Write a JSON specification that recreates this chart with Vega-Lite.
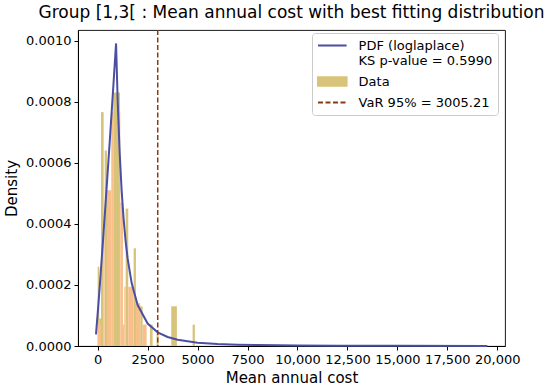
{
  "$schema": "https://vega.github.io/schema/vega-lite/v6.json",
  "width": 427,
  "height": 316,
  "autosize": {"type": "none"},
  "padding": {"left": 78, "top": 30, "right": 45, "bottom": 40},
  "title": {"text": "Group [1,3[ : Mean annual cost with best fitting distribution", "fontSize": 17, "fontWeight": "normal", "color": "black", "offset": 7, "anchor": "middle"},
  "config": {
    "font": "DejaVu Sans",
    "view": {"stroke": "black", "strokeWidth": 0.9},
    "axis": {"grid": false, "domainColor": "black", "tickColor": "black", "labelColor": "black", "titleColor": "black", "labelFontSize": 13, "titleFontSize": 15, "titleFontWeight": "normal", "tickSize": 4, "labelPadding": 3},
    "legend": {
      "title": null, "orient": "none", "legendX": 234, "legendY": 3,
      "labelFontSize": 13, "labelColor": "black", "labelOffset": 26.6, "rowPadding": 5, "labelLimit": 400,
      "symbolSize": 169, "symbolStrokeWidth": 2, "padding": 5,
      "strokeColor": "#cccccc", "fillColor": "white", "cornerRadius": 3
    }
  },
  "datasets": {
    "gold": [
      {"x0": 0, "x1": 80, "density": 0.00026, "series": "Data"},
      {"x0": 80, "x1": 165, "density": 0.00009, "series": "Data"},
      {"x0": 165, "x1": 300, "density": 0.000766, "series": "Data"},
      {"x0": 350, "x1": 465, "density": 0.00064, "series": "Data"},
      {"x0": 780, "x1": 1115, "density": 0.00083, "series": "Data"},
      {"x0": 1400, "x1": 1530, "density": 0.00045, "series": "Data"},
      {"x0": 1800, "x1": 1915, "density": 0.00032, "series": "Data"},
      {"x0": 2130, "x1": 2250, "density": 0.00013, "series": "Data"},
      {"x0": 2615, "x1": 2750, "density": 0.00007, "series": "Data"},
      {"x0": 2950, "x1": 3050, "density": 0.00004, "series": "Data"},
      {"x0": 3680, "x1": 3965, "density": 0.00013, "series": "Data"},
      {"x0": 4750, "x1": 4865, "density": 0.00007, "series": "Data"}
    ],
    "orange": [
      {"x0": 0, "x1": 165, "density": 0.00007},
      {"x0": 300, "x1": 350, "density": 0.00037},
      {"x0": 465, "x1": 680, "density": 0.00051},
      {"x0": 680, "x1": 780, "density": 0.000766},
      {"x0": 1115, "x1": 1130, "density": 0.000766},
      {"x0": 1130, "x1": 1265, "density": 0.00047},
      {"x0": 1265, "x1": 1330, "density": 0.00007},
      {"x0": 1330, "x1": 1400, "density": 0.000194},
      {"x0": 1530, "x1": 1800, "density": 0.000194},
      {"x0": 1915, "x1": 2130, "density": 0.00014},
      {"x0": 2250, "x1": 2450, "density": 0.00007}
    ],
    "pdf": [
      {"x": -85, "density": 0.0000382},
      {"x": 0, "density": 0.000107},
      {"x": 100, "density": 0.000193},
      {"x": 200, "density": 0.000284},
      {"x": 300, "density": 0.000377},
      {"x": 400, "density": 0.000472},
      {"x": 500, "density": 0.000569},
      {"x": 600, "density": 0.000667},
      {"x": 700, "density": 0.000767},
      {"x": 800, "density": 0.000868},
      {"x": 920, "density": 0.000991},
      {"x": 1000, "density": 0.000805},
      {"x": 1100, "density": 0.000634},
      {"x": 1200, "density": 0.000508},
      {"x": 1300, "density": 0.000414},
      {"x": 1400, "density": 0.000342},
      {"x": 1500, "density": 0.000286},
      {"x": 1700, "density": 0.000206},
      {"x": 2000, "density": 0.000134},
      {"x": 2500, "density": 0.0000736},
      {"x": 3000, "density": 0.0000449},
      {"x": 3500, "density": 0.0000295},
      {"x": 4000, "density": 0.0000204},
      {"x": 5000, "density": 0.000011},
      {"x": 6000, "density": 0.0000066},
      {"x": 7000, "density": 0.0000043},
      {"x": 8000, "density": 0.000003},
      {"x": 10000, "density": 0.0000016},
      {"x": 12000, "density": 0.00000095},
      {"x": 15000, "density": 0.0000005},
      {"x": 19500, "density": 0.00000024}
    ],
    "var": [
      {"x": 3005.21}
    ]
  },
  "layer": [
    {
      "data": {"name": "gold"},
      "mark": {"type": "bar", "color": "#d8c37a"},
      "encoding": {
        "x": {"field": "x0", "type": "quantitative", "scale": {"domain": [-985, 20385], "nice": false, "zero": false},
          "axis": {"title": "Mean annual cost", "values": [0, 2500, 5000, 7500, 10000, 12500, 15000, 17500, 20000], "labelExpr": "datum.value >= 10000 ? format(datum.value, ',') : format(datum.value, 'd')", "titlePadding": 4}},
        "x2": {"field": "x1"},
        "y": {"field": "density", "type": "quantitative", "scale": {"domain": [0, 0.001035], "nice": false},
          "axis": {"title": "Density", "values": [0, 0.0002, 0.0004, 0.0006, 0.0008, 0.001], "format": ".4f", "titlePadding": 6}},
        "y2": {"datum": 0}
      }
    },
    {
      "data": {"name": "orange"},
      "mark": {"type": "bar", "color": "#f8bf8b"},
      "encoding": {
        "x": {"field": "x0", "type": "quantitative"},
        "x2": {"field": "x1"},
        "y": {"field": "density", "type": "quantitative"},
        "y2": {"datum": 0}
      }
    },
    {
      "data": {"name": "pdf"},
      "mark": {"type": "line", "strokeWidth": 2, "color": "#4a4fa3"},
      "encoding": {
        "x": {"field": "x", "type": "quantitative"},
        "y": {"field": "density", "type": "quantitative"}
      }
    },
    {
      "data": {"name": "var"},
      "mark": {"type": "rule", "strokeDash": [5, 2.5], "strokeWidth": 1.5, "color": "#8c3a14"},
      "encoding": {
        "x": {"field": "x", "type": "quantitative"}
      }
    },
    {
      "data": {"name": "gold"},
      "mark": {"type": "point", "filled": false, "size": 0, "opacity": 1, "strokeWidth": 2},
      "encoding": {
        "x": {"field": "x0", "type": "quantitative"},
        "y": {"field": "density", "type": "quantitative"},
        "color": {"field": "series", "type": "nominal",
          "scale": {"domain": ["PDF (loglaplace)|KS p-value = 0.5990", "Data", "VaR 95% = 3005.21"], "range": ["#4a4fa3", "#d8c37a", "#8c3a14"]},
          "legend": {"labelExpr": "split(datum.label, '|')", "labelLimit": 400}},
        "fill": {"field": "series", "type": "nominal",
          "scale": {"domain": ["PDF (loglaplace)|KS p-value = 0.5990", "Data", "VaR 95% = 3005.21"], "range": ["transparent", "#d8c37a", "transparent"]},
          "legend": {"labelExpr": "split(datum.label, '|')", "labelLimit": 400}},
        "shape": {"field": "series", "type": "nominal",
          "scale": {"domain": ["PDF (loglaplace)|KS p-value = 0.5990", "Data", "VaR 95% = 3005.21"], "range": ["M-1,0H3.4", "M-1,-0.65H3.4V0.65H-1Z", "M-1,0H3.4"]},
          "legend": {"labelExpr": "split(datum.label, '|')", "labelLimit": 400}},
        "strokeDash": {"field": "series", "type": "nominal",
          "scale": {"domain": ["PDF (loglaplace)|KS p-value = 0.5990", "Data", "VaR 95% = 3005.21"], "range": [[1, 0], [1, 0], [5, 2.5]]},
          "legend": {"labelExpr": "split(datum.label, '|')", "labelLimit": 400}}
      }
    }
  ]
}
